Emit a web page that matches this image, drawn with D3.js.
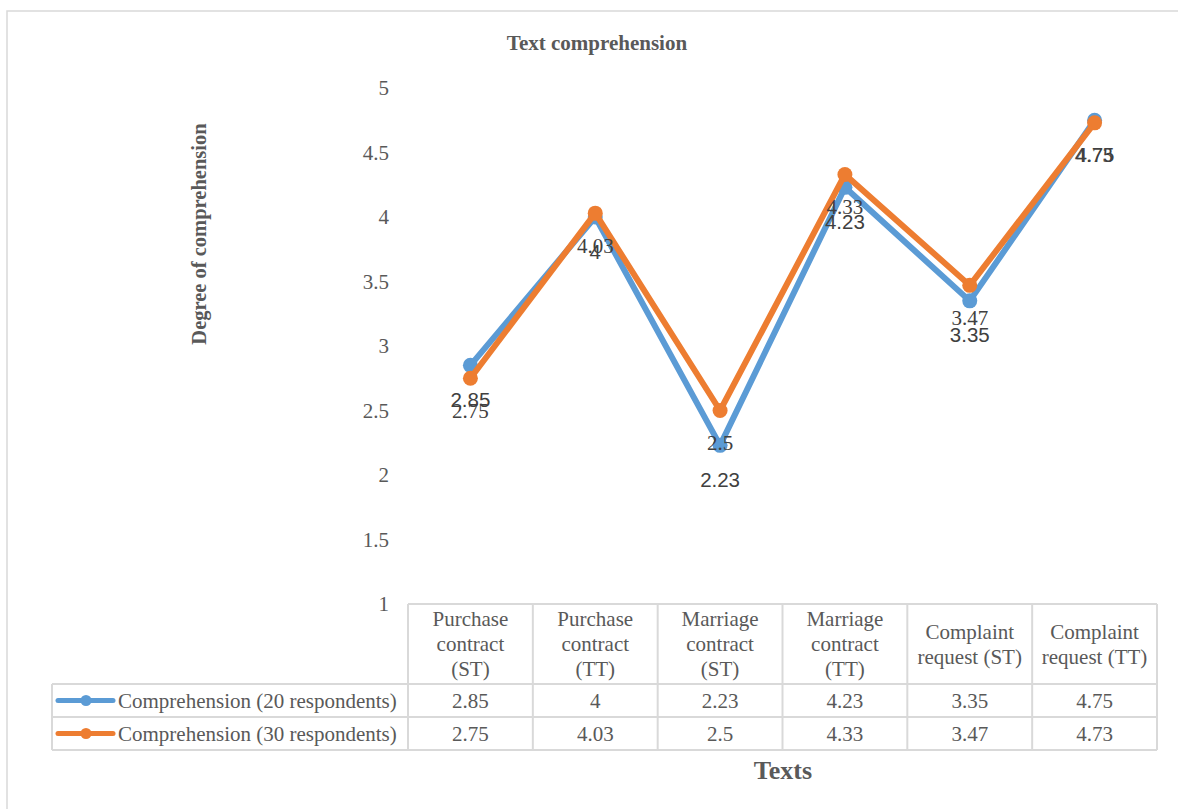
<!DOCTYPE html>
<html>
<head>
<meta charset="utf-8">
<script src="https://cdn.jsdelivr.net/npm/d3@7"></script>
<style>
  html, body { margin: 0; padding: 0; background: #fff; }
  svg { display: block; }
</style>
</head>
<body>
<svg id="chart" width="1178" height="809"></svg>
<script>
// Text comprehension scores per text, two respondent groups
const categories = [
  ["Purchase", "contract", "(ST)"],
  ["Purchase", "contract", "(TT)"],
  ["Marriage", "contract", "(ST)"],
  ["Marriage", "contract", "(TT)"],
  ["Complaint", "request (ST)"],
  ["Complaint", "request (TT)"]
];
const seriesNames = ["Comprehension (20 respondents)", "Comprehension (30 respondents)"];
const values20 = [2.85, 4, 2.23, 4.23, 3.35, 4.75];
const values30 = [2.75, 4.03, 2.5, 4.33, 3.47, 4.73];
const yTicks = [1, 1.5, 2, 2.5, 3, 3.5, 4, 4.5, 5];

const colors = ["#5B9BD5", "#ED7D31"];
const serif = "'Liberation Serif', 'Times New Roman', serif";
const sans = "'Liberation Sans', Arial, sans-serif";
const textGrey = "#595959";
const gridGrey = "#d9d9d9";

const svg = d3.select("#chart");

// Outer frame
svg.append("path")
  .attr("d", "M7,809 V11 H1178")
  .attr("fill", "none")
  .attr("stroke", gridGrey)
  .attr("stroke-width", 1.5);

const keys = categories.map((c, i) => "c" + i);
const x = d3.scaleBand().domain(keys).range([408, 1157]).padding(0);
const cx = i => x(keys[i]) + x.bandwidth() / 2;
const y = d3.scaleLinear().domain([1, 5]).range([604, 88]);

// Title
svg.append("text")
  .attr("x", 597).attr("y", 50)
  .attr("text-anchor", "middle")
  .attr("font-family", serif).attr("font-weight", "bold")
  .attr("font-size", 21).attr("fill", textGrey)
  .text("Text comprehension");

// Y axis title
svg.append("text")
  .attr("transform", "translate(206,234) rotate(-90)")
  .attr("text-anchor", "middle")
  .attr("font-family", serif).attr("font-weight", "bold")
  .attr("font-size", 20.5).attr("fill", textGrey)
  .text("Degree of comprehension");

// Y axis (labels only)
const yAxis = svg.append("g")
  .attr("transform", "translate(408,0)")
  .call(d3.axisLeft(y).tickValues(yTicks).tickSize(0).tickPadding(19).tickFormat(d3.format("")));
yAxis.select(".domain").remove();
yAxis.selectAll("text")
  .attr("font-family", serif).attr("font-size", 21).attr("fill", textGrey);

// Lines and markers
const allSeries = [values20, values30];
const line = d3.line().x((d, i) => cx(i)).y(d => y(d));

allSeries.forEach((vals, s) => {
  const g = svg.append("g");
  g.append("path")
    .datum(vals)
    .attr("d", line)
    .attr("fill", "none")
    .attr("stroke", colors[s])
    .attr("stroke-width", 6)
    .attr("stroke-linejoin", "round")
    .attr("stroke-linecap", "round");
  g.selectAll("circle")
    .data(vals)
    .join("circle")
    .attr("cx", (d, i) => cx(i))
    .attr("cy", d => y(d))
    .attr("r", 7.5)
    .attr("fill", colors[s]);
});

// Data labels
svg.append("g").selectAll("text")
  .data(values30)
  .join("text")
  .attr("x", (d, i) => cx(i))
  .attr("y", d => y(d) + 39.5)
  .attr("text-anchor", "middle")
  .style("font-family", serif).attr("font-size", 21).attr("fill", "#404040")
  .text(d => d);

svg.append("g").selectAll("text")
  .data(values20)
  .join("text")
  .attr("x", (d, i) => cx(i))
  .attr("y", d => y(d) + 41.5)
  .attr("text-anchor", "middle")
  .style("font-family", sans).attr("font-size", 20.5).attr("fill", "#404040")
  .text(d => d);

// Data table
const tableTop = 604, rowTop1 = 684, rowTop2 = 717, tableBottom = 750;
const tableLeft = 52, tableRight = 1157;
const tbl = svg.append("g")
  .attr("fill", "none").attr("stroke", gridGrey).attr("stroke-width", 2);

// horizontal rules
tbl.append("line").attr("x1", 408).attr("x2", tableRight).attr("y1", tableTop).attr("y2", tableTop);
[rowTop1, rowTop2, tableBottom].forEach(yy =>
  tbl.append("line").attr("x1", tableLeft).attr("x2", tableRight).attr("y1", yy).attr("y2", yy));
// vertical rules
tbl.append("line").attr("x1", tableLeft).attr("x2", tableLeft).attr("y1", rowTop1).attr("y2", tableBottom);
keys.forEach(k =>
  tbl.append("line").attr("x1", x(k)).attr("x2", x(k)).attr("y1", tableTop).attr("y2", tableBottom));
tbl.append("line").attr("x1", tableRight).attr("x2", tableRight).attr("y1", tableTop).attr("y2", tableBottom);

// header cells
const header = svg.append("g")
  .attr("font-family", serif).attr("font-size", 21).attr("fill", textGrey)
  .attr("text-anchor", "middle");
categories.forEach((lines, i) => {
  const lh = 25;
  const midY = (tableTop + rowTop1) / 2;
  const first = midY - (lines.length - 1) * lh / 2 + 7;
  const t = header.append("text");
  lines.forEach((ln, j) =>
    t.append("tspan").attr("x", cx(i)).attr("y", first + j * lh).text(ln));
});

// value rows
const rowBase = [(rowTop1 + rowTop2) / 2 + 7, (rowTop2 + tableBottom) / 2 + 7];
allSeries.forEach((vals, s) => {
  svg.append("g").selectAll("text")
    .data(vals)
    .join("text")
    .attr("x", (d, i) => cx(i))
    .attr("y", rowBase[s])
    .attr("text-anchor", "middle")
    .attr("font-family", serif).attr("font-size", 21).attr("fill", textGrey)
    .text(d => d);

  // legend key
  const ky = rowBase[s] - 7;
  svg.append("line")
    .attr("x1", 58).attr("x2", 113).attr("y1", ky).attr("y2", ky)
    .attr("stroke", colors[s]).attr("stroke-width", 5).attr("stroke-linecap", "round");
  svg.append("circle")
    .attr("cx", 86).attr("cy", ky).attr("r", 5.5).attr("fill", colors[s]);
  svg.append("text")
    .attr("x", 118).attr("y", rowBase[s])
    .attr("font-family", serif).attr("font-size", 21).attr("fill", textGrey)
    .text(seriesNames[s]);
});

// X axis title
svg.append("text")
  .attr("x", 783).attr("y", 779)
  .attr("text-anchor", "middle")
  .attr("font-family", serif).attr("font-weight", "bold")
  .attr("font-size", 26).attr("fill", textGrey)
  .text("Texts");
</script>
</body>
</html>
